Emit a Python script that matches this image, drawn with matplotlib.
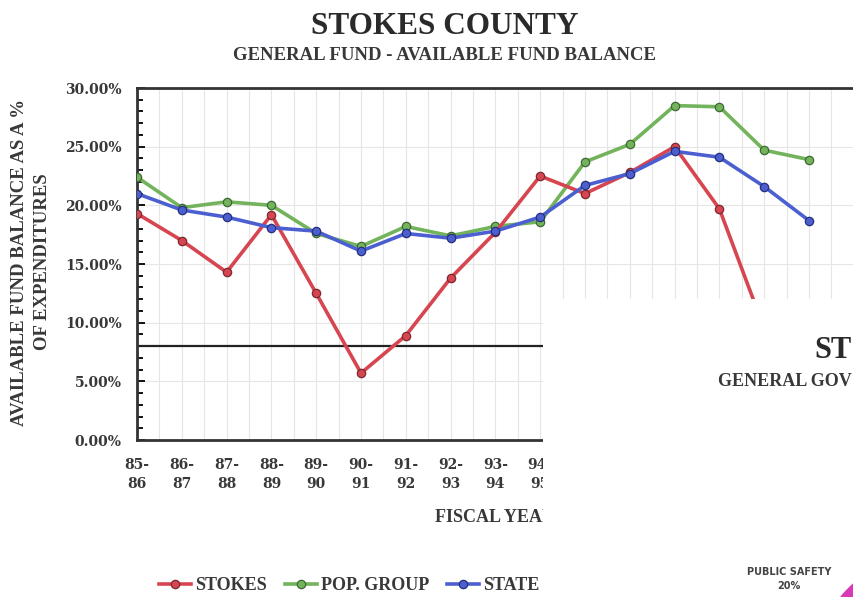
import numpy as np
import matplotlib.pyplot as plt
from matplotlib.patches import Rectangle, Circle
from matplotlib.ticker import MultipleLocator, FuncFormatter

# fiscal years
years = ['85-\n86', '86-\n87', '87-\n88', '88-\n89', '89-\n90', '90-\n91', '91-\n92', '92-\n93',
         '93-\n94', '94-\n95', '95-\n96', '96-\n97', '97-\n98', '98-\n99', '99-\n00', '00-\n01']

# fund balance as % of expenditures
stokes = [19.3, 17.0, 14.3, 19.2, 12.5, 5.7, 8.9, 13.8, 17.7, 22.5, 21.0, 22.8, 25.0, 19.7, 9.5]
pop_group = [22.4, 19.8, 20.3, 20.0, 17.6, 16.5, 18.2, 17.4, 18.2, 18.6, 23.7, 25.2, 28.5, 28.4, 24.7, 23.9]
state = [21.0, 19.6, 19.0, 18.1, 17.8, 16.1, 17.6, 17.2, 17.8, 19.0, 21.7, 22.7, 24.6, 24.1, 21.6, 18.7]
target = 8.0

serif = 'Liberation Serif'
txt = '#383838'

fig = plt.figure(figsize=(8.54, 5.97), dpi=100)
ax = fig.add_axes([137/854, 1-440/597, (880-137)/854, 352/597])

x = np.arange(len(years))
ax.plot(x[:len(stokes)], stokes, color='#d64550', lw=2.6, marker='o', ms=6,
        mfc='#d64550', mec='#7a2a30', mew=0.9, label='STOKES', zorder=4)
ax.plot(x, pop_group, color='#72b35c', lw=2.6, marker='o', ms=6,
        mfc='#72b35c', mec='#3d6a33', mew=0.9, label='POP. GROUP', zorder=3)
ax.plot(x, state, color='#4b5fd1', lw=2.6, marker='o', ms=6,
        mfc='#4b5fd1', mec='#27307a', mew=0.9, label='STATE', zorder=5)
ax.axhline(target, color='#222222', lw=1.6, zorder=2)

ax.set_xlim(0, (880-137)/44.8)
ax.set_ylim(0, 30)
ax.set_xticks(x)
ax.set_xticklabels(years, fontfamily='DejaVu Serif', fontweight='bold', fontsize=10,
                   color=txt, linespacing=1.45)
ax.xaxis.set_minor_locator(MultipleLocator(0.5))
ax.yaxis.set_major_locator(MultipleLocator(5))
ax.yaxis.set_minor_locator(MultipleLocator(1))
ax.yaxis.set_major_formatter(FuncFormatter(lambda v, p: f'{v:.2f}%'))
for lab in ax.get_yticklabels():
    lab.set_fontfamily('DejaVu Serif')
    lab.set_fontweight('bold')
    lab.set_fontsize(10)
    lab.set_color(txt)
ax.tick_params(axis='x', which='both', length=0, pad=13)
ax.tick_params(axis='y', which='major', direction='in', length=6, width=1.3, pad=11)
ax.tick_params(axis='y', which='minor', direction='in', length=4, width=1.3)
ax.grid(True, axis='x', which='both', color='#e6e6e6', lw=0.8)
ax.grid(True, axis='y', which='major', color='#e6e6e6', lw=0.8)
for s in ax.spines.values():
    s.set_linewidth(2)
    s.set_color('#333333')

fig.text(31/854, 1-262/597, 'AVAILABLE FUND BALANCE AS A %\nOF EXPENDITURES', fontfamily=serif,
         fontweight='bold', fontsize=13.5, color=txt, rotation=90, ha='center', va='center',
         linespacing=1.4, multialignment='center')
fig.text(435/854, 1-517/597, 'FISCAL YEAR', fontfamily=serif, fontweight='bold',
         fontsize=13, color=txt, ha='left', va='center')

fig.text(445/854, 1-26/597, 'STOKES COUNTY', fontfamily=serif, fontweight='bold',
         fontsize=22.5, color='#2a2a2a', ha='center', va='center')
fig.text(445/854, 1-56/597, 'GENERAL FUND - AVAILABLE FUND BALANCE', fontfamily=serif,
         fontweight='bold', fontsize=13.5, color=txt, ha='center', va='center')

fig.legend(loc='center', bbox_to_anchor=(349/854, 1-586/597), ncol=3, frameon=False,
           prop={'family': serif, 'weight': 'bold', 'size': 13}, handlelength=1.8,
           handletextpad=0.2, columnspacing=1.0, labelcolor=txt)

# overlapping page from the scan
fig.patches.append(Rectangle((543/854, 0), 1, 1-299/597, transform=fig.transFigure,
                             facecolor='white', edgecolor='none', zorder=10))
fig.patches.append(Circle((9.40, -0.83), 1.30, transform=fig.dpi_scale_trans,
                          facecolor='#d63bb5', edgecolor='none', zorder=11))
fig.text(852/854, 1-350/597, 'ST', fontfamily=serif, fontweight='bold', fontsize=22,
         color='#2a2a2a', ha='right', va='center', zorder=12)
fig.text(852/854, 1-382/597, 'GENERAL GOV', fontfamily=serif, fontweight='bold',
         fontsize=13, color=txt, ha='right', va='center', zorder=12)
fig.text(789/854, 1-579/597, 'PUBLIC SAFETY\n20%', fontfamily='DejaVu Sans', fontweight='bold',
         fontsize=7, color='#444444', ha='center', va='center', zorder=12, linespacing=1.6)

fig.savefig('out.png', dpi=100)
